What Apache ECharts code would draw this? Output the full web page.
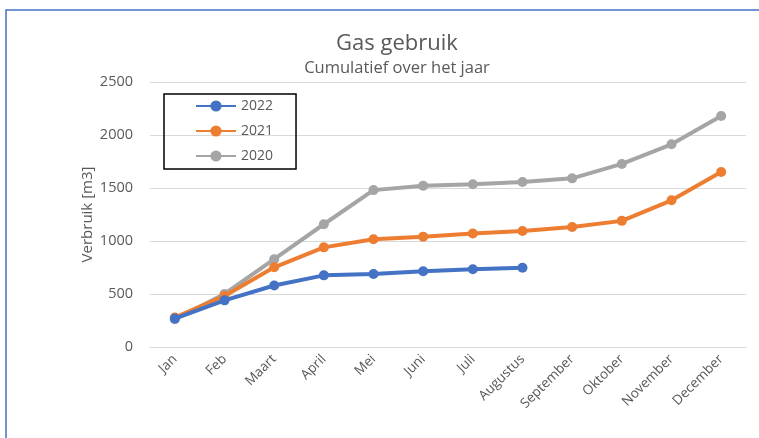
<!DOCTYPE html>
<html><head><meta charset="utf-8">
<script src="https://cdn.jsdelivr.net/npm/echarts@6/dist/echarts.min.js"></script>
<style>html,body{margin:0;padding:0;background:#fff;}#c{width:759px;height:438px;}</style>
</head><body><div id="c"></div>
<script>
const categories = ['Jan','Feb','Maart','April','Mei','Juni','Juli','Augustus','September','Oktober','November','December'];
const yTicks = [0, 500, 1000, 1500, 2000, 2500];
const s2022 = [268, 440, 580, 676, 688, 714, 733, 748];
const s2021 = [278, 482, 752, 940, 1016, 1041, 1070, 1094, 1132, 1190, 1384, 1651];
const s2020 = [262, 500, 828, 1158, 1480, 1522, 1536, 1557, 1591, 1727, 1912, 2180];

const txt = '#595959';
const font = 'Open Sans';
function mk(name, data, color){
  return {name, type:'line', data, symbol:'circle', symbolSize:10,
    lineStyle:{width:4, color}, itemStyle:{color}, z: name==='2020'?1:(name==='2021'?2:3)};
}
const chart = echarts.init(document.getElementById('c'));
chart.setOption({
  animation:false,
  backgroundColor:'#fff',
  textStyle:{fontFamily:font},
  title:{text:'Gas gebruik', subtext:'Cumulatief over het jaar', left:392, textAlign:'center', top:28,
    itemGap:5,
    textStyle:{fontFamily:font, fontSize:22, fontWeight:'normal', color:txt},
    subtextStyle:{fontFamily:font, fontSize:16.5, color:txt}},
  legend:{orient:'vertical', left:164, top:94, padding:[5,23,6,31], itemGap:11,
    itemWidth:40, itemHeight:14, borderColor:'#000', borderWidth:1.5,
    textStyle:{fontFamily:font, fontSize:14, color:txt},
    data:['2022','2021','2020']},
  grid:{left:150, right:13, top:82, bottom:91, containLabel:false},
  xAxis:{type:'category', data:categories, boundaryGap:true,
    axisLine:{lineStyle:{color:'#D9D9D9'}}, axisTick:{show:false},
    axisLabel:{rotate:45, color:txt, fontSize:13.5, fontFamily:font, margin:10, interval:0}},
  yAxis:{type:'value', min:yTicks[0], max:yTicks[yTicks.length-1], interval:500,
    name:'Verbruik [m3]', nameLocation:'middle', nameGap:62, nameRotate:90, nameMoveOverlap:false,
    nameTextStyle:{color:txt, fontSize:15, fontFamily:font, verticalAlign:'middle'},
    axisLine:{show:false}, axisTick:{show:false},
    splitLine:{lineStyle:{color:'#D9D9D9', width:1}},
    axisLabel:{color:txt, fontSize:14.5, fontFamily:font, margin:17, formatter:v=>String(v)}},
  series:[mk('2022', s2022, '#4472C4'), mk('2021', s2021, '#ED7D31'), mk('2020', s2020, '#A5A5A5')],
  graphic:[{type:'rect', shape:{x:6, y:10, width:800, height:500},
    style:{fill:null, stroke:'#4472C4', lineWidth:1.5}, silent:true, z:100}]
});
</script></body></html>
